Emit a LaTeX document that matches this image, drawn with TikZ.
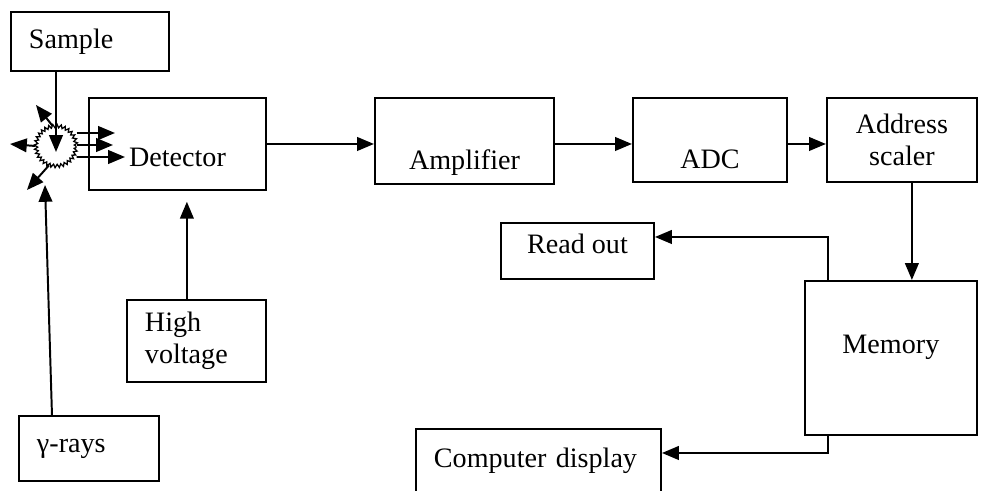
\documentclass[tikz,border=0pt]{standalone}
\usepackage{fontspec}
\setmainfont{Liberation Serif}
\usetikzlibrary{arrows.meta, positioning, decorations.pathmorphing}

\begin{document}
\begin{tikzpicture}[
    node distance=1.6cm,
    block/.style={draw, rectangle, line width=1.4pt, inner sep=0pt, font=\fontsize{20}{23}\selectfont},
    leftbox/.style={block, align=left, inner xsep=0.45cm, text width=#1},
    sink/.style={text height=#1, text depth=0pt},
    lift/.style={text height=0pt, text depth=#1},
    arrow/.style={-{Triangle[length=0.42cm, width=0.34cm]}, line width=1.4pt},
    burst/.style={draw, circle, line width=0.9pt, minimum size=1.0cm, decorate,
        decoration={zigzag, segment length=2.8pt, amplitude=1.2pt}}
]
\useasboundingbox (0,0) rectangle (24.6,-12.275);
\clip (0,0) rectangle (24.6,-12.275);

% Source side
\node[leftbox=3.05cm, minimum height=1.475cm, anchor=north west] (sample) at (0.25,-0.275) {Sample};
\node[burst] (burst) at (1.4,-3.65) {};
\node[leftbox=2.6cm, minimum height=1.625cm, anchor=north west, sink=6pt] (gamma) at (0.45,-10.375) {γ-rays};

% Main chain
\node[block, minimum width=4.425cm, minimum height=2.3cm, anchor=north west, sink=31.6pt] (det) at (2.2,-2.425) {Detector};
\node[block, minimum width=4.475cm, minimum height=2.15cm, right=2.675cm of det.north east, anchor=north west, sink=40pt] (amp) {Amplifier};
\node[block, minimum width=3.85cm, minimum height=2.1cm, right=1.925cm of amp.north east, anchor=north west, sink=40pt] (adc) {ADC};
\node[block, minimum width=3.75cm, minimum height=2.1cm, right=0.95cm of adc.north east, anchor=north west, align=center] (addr) {Address\\scaler};
\node[block, minimum width=4.3cm, minimum height=3.85cm, below=2.425cm of addr.south east, anchor=north east, lift=6.8pt] (mem) {Memory};

% Outputs and supply
\node[block, minimum width=3.825cm, minimum height=1.4cm, anchor=north west, sink=3.2pt] (readout) at (12.5,-5.55) {Read out};
\node[leftbox=5.225cm, minimum height=2cm, anchor=north west, lift=2.4pt] (comp) at (10.375,-10.7) {Computer display};
\node[leftbox=2.575cm, minimum height=2.05cm, anchor=north west] (hv) at (3.15,-7.475) {High\\voltage};

% Free ends of the emitted rays
\coordinate (hit) at (1.4,-3.8);
\coordinate (rayul) at (0.9,-2.625);
\coordinate (rayl) at (0.25,-3.6);
\coordinate (raydl) at (0.675,-4.75);
\coordinate (ray1) at (2.875,-3.325);
\coordinate (ray2) at (2.825,-3.625);
\coordinate (ray3) at (3.125,-3.925);
\coordinate (gtip) at (1.125,-4.625);

% Arrows: sample and rays
\draw[arrow] (sample.south -| burst) -- (hit);
\draw[arrow] (burst.100) -- (rayul);
\draw[arrow] (burst.west) -- (rayl);
\draw[arrow] (burst.250) -- (raydl);
\draw[arrow] ([yshift=0.325cm]burst.east) -- (ray1);
\draw[arrow] ([yshift=0.025cm]burst.east) -- (ray2);
\draw[arrow] ([yshift=-0.275cm]burst.east) -- (ray3);
\draw[arrow] ([xshift=-0.925cm]gamma.north) -- (gtip);
\draw[arrow, shorten >=0.27cm] ([xshift=-0.24cm]hv.north) -- ([xshift=-0.24cm]hv.north |- det.south);

% Arrows: signal chain
\draw[arrow] (det.east) -- (det.east -| amp.west);
\draw[arrow] ([yshift=-0.075cm]amp.east) -- ([yshift=-0.075cm]amp.east -| adc.west);
\draw[arrow] ([yshift=-0.1cm]adc.east) -- ([yshift=-0.1cm]adc.east -| addr.west);
\draw[arrow] ([xshift=0.25cm]addr.south) -- ([xshift=0.25cm]addr.south |- mem.north);

% Arrows: memory outputs
\draw[arrow] ([xshift=0.6cm]mem.north west) |- ([yshift=0.35cm]readout.east);
\draw[arrow] ([xshift=0.6cm]mem.south west) |- ([yshift=0.4cm]comp.east);

\end{tikzpicture}
\end{document}
